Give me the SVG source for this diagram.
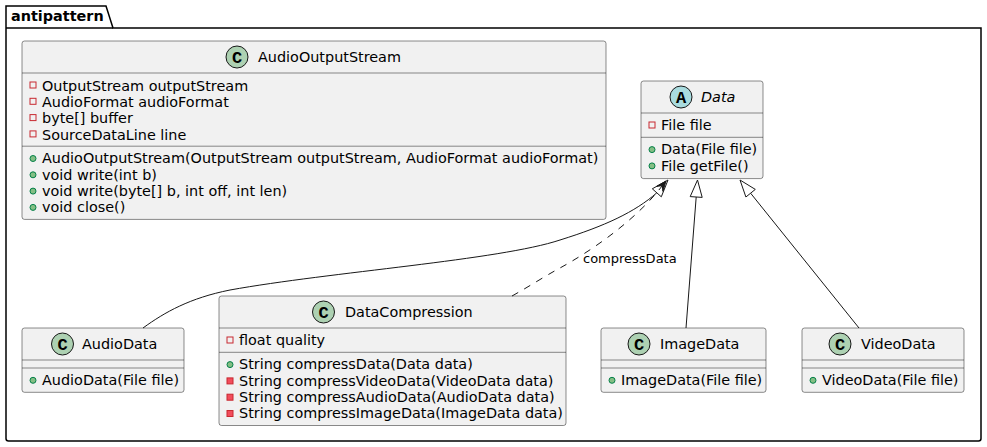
<svg xmlns="http://www.w3.org/2000/svg" width="987" height="447" viewBox="0 0 987 447">
<style>
text{font-family:"DejaVu Sans",sans-serif;font-size:14.4px;fill:#000}
.box{fill:#F1F1F1;stroke:#181818;stroke-width:0.5}
.div{stroke:#181818;stroke-width:0.5}
.cc{fill:#ADD1B2;stroke:#181818;stroke-width:1}
.ca{fill:#A9DCDF;stroke:#181818;stroke-width:1}
.ic{font-family:"Liberation Mono","DejaVu Sans Mono",monospace;font-weight:bold;font-size:17px;text-anchor:middle}
.pf{fill:none;stroke:#C82930;stroke-width:1}
.pm{fill:#F24D5C;stroke:#C82930;stroke-width:1}
.pub{fill:#84BE84;stroke:#038048;stroke-width:1}
.edge{fill:none;stroke:#181818;stroke-width:1}
.tri{fill:#FFFFFF;stroke:#181818;stroke-width:1}
.lbl{font-size:13px}
</style>
<g id="package-antipattern">
<path d="M6,6 L106,6 L113,28 L981,28 L981,438.5 Q981,441 978.5,441 L8.5,441 Q6,441 6,438.5 Z" fill="#FFFFFF" stroke="#000000" stroke-width="1.5"/>
<line x1="6" y1="28" x2="113" y2="28" stroke="#000000" stroke-width="1.5"/>
<text x="11" y="21" font-weight="bold">antipattern</text>
</g>
<g id="AudioOutputStream">
<rect class="box" x="22" y="41" width="584" height="178.4" rx="2.5"/>
<circle class="cc" cx="237" cy="57" r="11"/>
<text class="ic" x="237" y="62.5">C</text>
<text x="258" y="62">AudioOutputStream</text>
<line class="div" x1="22" y1="73" x2="606" y2="73"/>
<rect class="pf" x="30" y="82" width="6" height="6"/><text x="42" y="90.7">OutputStream outputStream</text>
<rect class="pf" x="30" y="98.3" width="6" height="6"/><text x="42" y="107">AudioFormat audioFormat</text>
<rect class="pf" x="30" y="114.6" width="6" height="6"/><text x="42" y="123.3">byte[] buffer</text>
<rect class="pf" x="30" y="130.9" width="6" height="6"/><text x="42" y="139.6">SourceDataLine line</text>
<line class="div" x1="22" y1="146.2" x2="606" y2="146.2"/>
<circle class="pub" cx="33" cy="158.5" r="3"/><text x="42" y="163.3">AudioOutputStream(OutputStream outputStream, AudioFormat audioFormat)</text>
<circle class="pub" cx="33" cy="174.8" r="3"/><text x="42" y="179.6">void write(int b)</text>
<circle class="pub" cx="33" cy="191.1" r="3"/><text x="42" y="195.9">void write(byte[] b, int off, int len)</text>
<circle class="pub" cx="33" cy="207.4" r="3"/><text x="42" y="212.2">void close()</text>
</g>
<g id="Data">
<rect class="box" x="641" y="81" width="122" height="97.6" rx="2.5"/>
<circle class="ca" cx="681" cy="97" r="11"/>
<text class="ic" x="681" y="102.5">A</text>
<text x="701" y="102" font-style="italic">Data</text>
<line class="div" x1="641" y1="113" x2="763" y2="113"/>
<rect class="pf" x="649" y="122" width="6" height="6"/><text x="661" y="130.3">File file</text>
<line class="div" x1="641" y1="137.3" x2="763" y2="137.3"/>
<circle class="pub" cx="652" cy="149.6" r="3"/><text x="661" y="154.4">Data(File file)</text>
<circle class="pub" cx="652" cy="165.9" r="3"/><text x="661" y="170.7">File getFile()</text>
</g>
<g id="AudioData">
<rect class="box" x="22" y="328" width="162" height="64.3" rx="2.5"/>
<circle class="cc" cx="62.5" cy="344" r="11"/>
<text class="ic" x="62.5" y="349.5">C</text>
<text x="82" y="349">AudioData</text>
<line class="div" x1="22" y1="360" x2="184" y2="360"/>
<line class="div" x1="22" y1="368" x2="184" y2="368"/>
<circle class="pub" cx="33" cy="380.3" r="3"/><text x="42" y="385.1">AudioData(File file)</text>
</g>
<g id="DataCompression">
<rect class="box" x="219" y="296" width="347" height="129.5" rx="2.5"/>
<circle class="cc" cx="323.5" cy="312" r="11"/>
<text class="ic" x="323.5" y="317.5">C</text>
<text x="345" y="317">DataCompression</text>
<line class="div" x1="219" y1="328" x2="566" y2="328"/>
<rect class="pf" x="227" y="337" width="6" height="6"/><text x="239" y="345.3">float quality</text>
<line class="div" x1="219" y1="352.3" x2="566" y2="352.3"/>
<circle class="pub" cx="230" cy="364.6" r="3"/><text x="239" y="369.4">String compressData(Data data)</text>
<rect class="pm" x="227" y="377.9" width="6" height="6"/><text x="239" y="385.7">String compressVideoData(VideoData data)</text>
<rect class="pm" x="227" y="394.2" width="6" height="6"/><text x="239" y="402">String compressAudioData(AudioData data)</text>
<rect class="pm" x="227" y="410.5" width="6" height="6"/><text x="239" y="418.3">String compressImageData(ImageData data)</text>
</g>
<g id="ImageData">
<rect class="box" x="601" y="328" width="165" height="64.3" rx="2.5"/>
<circle class="cc" cx="639" cy="344" r="11"/>
<text class="ic" x="639" y="349.5">C</text>
<text x="660" y="349">ImageData</text>
<line class="div" x1="601" y1="360" x2="766" y2="360"/>
<line class="div" x1="601" y1="368" x2="766" y2="368"/>
<circle class="pub" cx="612" cy="380.3" r="3"/><text x="621" y="385.1">ImageData(File file)</text>
</g>
<g id="VideoData">
<rect class="box" x="802" y="328" width="162" height="64.3" rx="2.5"/>
<circle class="cc" cx="840" cy="344" r="11"/>
<text class="ic" x="840" y="349.5">C</text>
<text x="861" y="349">VideoData</text>
<line class="div" x1="802" y1="360" x2="964" y2="360"/>
<line class="div" x1="802" y1="368" x2="964" y2="368"/>
<circle class="pub" cx="813" cy="380.3" r="3"/><text x="822" y="385.1">VideoData(File file)</text>
</g>
<g id="connectors">
<path class="edge" d="M143,328 C165,312 190,298 230,290 C330,272 500,260 560,240 C605,226 635,212 656.8,192.8"/>
<polygon class="tri" points="668,180 661.3,196.8 652.3,188.8"/>
<path class="edge" stroke-dasharray="7,7" d="M512,296 C530,286 545,276 560,268 C600,246 640,215 662.3,185.7"/>
<polygon points="666,181 656.7,186.3 662.3,185.7 662.9,191.3" fill="#181818" stroke="#181818" stroke-width="1"/>
<text class="lbl" x="583" y="262.5">compressData</text>
<line class="edge" x1="686" y1="328" x2="696.2" y2="197"/>
<polygon class="tri" points="697.5,180 702.2,197.4 690.2,196.6"/>
<line class="edge" x1="859" y1="328" x2="750.6" y2="193.2"/>
<polygon class="tri" points="740,180 755.3,189.4 745.9,197"/>
</g>
</svg>
